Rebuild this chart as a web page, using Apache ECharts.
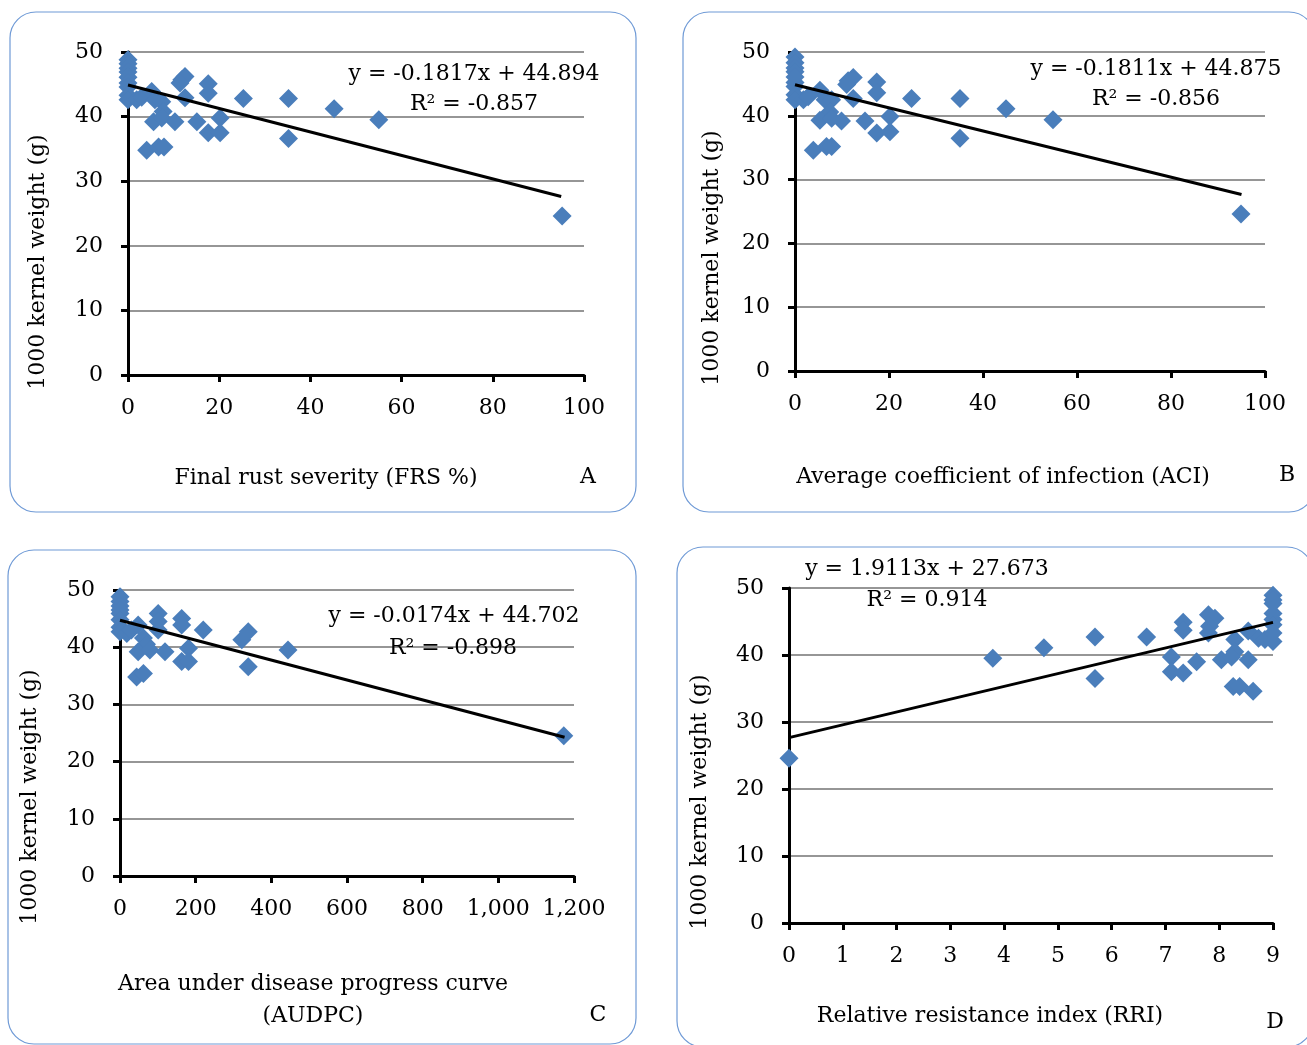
<!DOCTYPE html>
<html lang="en">
<head>
<meta charset="UTF-8">
<title>1000 kernel weight vs rust resistance</title>
<script src="https://cdn.jsdelivr.net/npm/echarts@6/dist/echarts.min.js"></script>
<style>
  body { margin: 0; background: #fff; }
  #chart { width: 1307px; height: 1045px; }
</style>
</head>
<body>
<div id="chart"></div>
<script>
// kernel weight (g) against each resistance measure
const frsX = [0, 0, 0, 0, 0, 0, 0, 0, 0, 1.9, 3, 5.2, 5.9, 7.4, 7.7, 5.6, 7.4, 10.3, 11.8, 12.5, 11.4, 12.5, 17.6, 17.6, 15.1, 20.2, 17.6, 20.2, 4.1, 6.7, 7.9, 25.3, 35.2, 35.2, 45.2, 55, 95.2];
const frsY = [48.8, 48.2, 47.5, 46.9, 46.1, 45.2, 44.6, 43.3, 42.6, 42.6, 43, 43.9, 42.6, 42.3, 40.8, 39.2, 39.8, 39.2, 45.7, 46.2, 45.2, 42.9, 45.1, 43.6, 39.2, 39.8, 37.5, 37.5, 34.8, 35.3, 35.3, 42.8, 42.8, 36.6, 41.2, 39.5, 24.6];

const aciX = [0, 0, 0, 0, 0, 0, 0, 0, 0, 1.8, 2.8, 5.3, 6.4, 7.8, 7.4, 5.3, 7.8, 9.9, 11.3, 12.4, 11, 12.4, 17.4, 17.4, 14.9, 20.2, 17.4, 20.2, 3.9, 6.7, 7.8, 24.8, 35.1, 35.1, 44.9, 54.9, 94.9];
const aciY = [49.2, 48.3, 47.5, 46.9, 46.1, 45.2, 44.6, 43.3, 42.5, 42.5, 43, 44, 42.5, 42.5, 40.6, 39.3, 39.6, 39.2, 45.5, 46, 44.9, 42.7, 45.3, 43.6, 39.2, 39.9, 37.3, 37.5, 34.6, 35.2, 35.2, 42.7, 42.7, 36.5, 41.1, 39.4, 24.6];

const audpcX = [0, 0, 0, 0, 0, 0, 0, 0, 18, 30, 48, 62, 70, 48, 79, 119, 101, 101, 101, 163, 163, 181, 163, 181, 220, 44, 62, 322, 339, 339, 444, 1173];
const audpcY = [48.8, 48, 47.2, 46.5, 45.9, 44.8, 43.5, 42.7, 42.4, 43, 43.9, 41.6, 40.5, 39.2, 39.5, 39.2, 45.9, 44.5, 43, 45, 43.9, 39.8, 37.5, 37.5, 43, 34.8, 35.4, 41.3, 42.7, 36.6, 39.5, 24.5];

const rriX = [0, 3.79, 4.74, 5.69, 5.69, 6.65, 7.33, 7.33, 7.11, 7.11, 7.33, 7.58, 7.8, 7.92, 7.82, 7.8, 8.04, 8.29, 8.29, 8.23, 8.54, 8.54, 8.26, 8.38, 8.63, 8.73, 8.85, 9, 9, 9, 9, 9, 9, 9, 9];
const rriY = [24.6, 39.5, 41.1, 42.7, 36.5, 42.7, 44.9, 43.7, 39.7, 37.5, 37.3, 39, 46, 45.5, 44.3, 43.3, 39.3, 42.3, 40.5, 39.7, 43.6, 39.3, 35.3, 35.3, 34.6, 42.5, 42.3, 48.9, 48.2, 47.7, 46.2, 45.3, 44.5, 43.3, 42];

// trend lines: slope, intercept, x range as printed on each panel
const slopes = [-0.1817, -0.1811, -0.0174, 1.9113];
const intercepts = [44.894, 44.875, 44.702, 27.673];
const trendEnds = [95, 95, 1175, 9];
const equations = ['y = -0.1817x + 44.894', 'y = -0.1811x + 44.875', 'y = -0.0174x + 44.702', 'y = 1.9113x + 27.673'];
const rSquared = ['R² = -0.857', 'R² = -0.856', 'R² = -0.898', 'R² = 0.914'];

const xMax = [100, 100, 1200, 9];
const xStep = [20, 20, 200, 1];
const yTicks = [0, 10, 20, 30, 40, 50];
const xTitles = ['Final rust severity (FRS %)', 'Average coefficient of infection (ACI)', 'Area under disease progress curve\n(AUDPC)', 'Relative resistance index (RRI)'];
const panelLetters = ['A', 'B', 'C', 'D'];
const yTitle = '1000 kernel weight (g)';

const FONT = '"DejaVu Serif", serif';
const FS = 22;

const grids = [
  { left: 128, top: 52, width: 456, height: 323 },
  { left: 795, top: 52, width: 470, height: 319 },
  { left: 120, top: 590, width: 454, height: 286 },
  { left: 789, top: 588, width: 484, height: 335 }
];

// frame boxes and text positions per panel
const frames = [
  { x: 10, y: 12, width: 626, height: 500 },
  { x: 683, y: 12, width: 632, height: 500 },
  { x: 8, y: 550, width: 628, height: 494 },
  { x: 677, y: 547, width: 636, height: 500 }
];
const xTitlePos = [[326, 478], [1003, 477], [313, 1000], [990, 1016]];
const letterPos = [[588, 477], [1287, 475], [598, 1015], [1275, 1022]];
const eqPos = [[474, 74], [1156, 69], [454, 616], [927, 569]];
const r2Pos = [[474, 104], [1156, 99], [453, 648], [927, 600]];
const yTitlePos = [[38, 262], [712, 258], [30, 797], [700, 802]];

const pointsX = [frsX, aciX, audpcX, rriX];
const pointsY = [frsY, aciY, audpcY, rriY];

const chart = echarts.init(document.getElementById('chart'));

const xAxes = [], yAxes = [], series = [], graphics = [];

frames.forEach(f => {
  graphics.push({
    type: 'rect',
    shape: { x: f.x, y: f.y, width: f.width, height: f.height, r: 26 },
    style: { fill: 'none', stroke: '#6f9ad6', lineWidth: 1.2 },
    z: -1
  });
});

function txt(text, pos, rotate) {
  return {
    type: 'text',
    x: pos[0], y: pos[1],
    rotation: rotate ? Math.PI / 2 : 0,
    style: {
      text: text,
      font: FS + 'px ' + FONT,
      fill: '#000',
      textAlign: 'center', textVerticalAlign: 'middle',
      align: 'center', verticalAlign: 'middle',
      lineHeight: 32
    },
    z: 10
  };
}

for (let i = 0; i < 4; i++) {
  xAxes.push({
    type: 'value', gridIndex: i, min: 0, max: xMax[i], interval: xStep[i],
    axisLine: { show: true, lineStyle: { color: '#000', width: 3 } },
    axisTick: { show: true, inside: false, length: 7, lineStyle: { color: '#000', width: 3 } },
    splitLine: { show: false },
    axisLabel: {
      color: '#000', fontFamily: FONT, fontSize: FS, margin: 22,
      formatter: v => v.toLocaleString('en-US')
    }
  });
  yAxes.push({
    type: 'value', gridIndex: i, min: yTicks[0], max: yTicks[yTicks.length - 1], interval: 10,
    axisLine: { show: true, lineStyle: { color: '#000', width: 3 } },
    axisTick: { show: true, inside: false, length: 7, lineStyle: { color: '#000', width: 3 } },
    splitLine: { show: true, lineStyle: { color: '#969696', width: 2 } },
    axisLabel: { color: '#000', fontFamily: FONT, fontSize: FS, margin: 25 }
  });
  series.push({
    type: 'scatter', xAxisIndex: i, yAxisIndex: i,
    symbol: 'diamond', symbolSize: 19, clip: false,
    itemStyle: { color: '#4a7ebb', opacity: 1 },
    data: pointsX[i].map((x, k) => [x, pointsY[i][k]]),
    z: 3
  });
  const x0 = 0, x1 = trendEnds[i];
  series.push({
    type: 'line', xAxisIndex: i, yAxisIndex: i,
    showSymbol: false, silent: true,
    lineStyle: { color: '#000', width: 3 },
    data: [[x0, slopes[i] * x0 + intercepts[i]], [x1, slopes[i] * x1 + intercepts[i]]],
    z: 5
  });

  graphics.push(txt(xTitles[i], xTitlePos[i]));
  graphics.push(txt(panelLetters[i], letterPos[i]));
  graphics.push(txt(equations[i], eqPos[i]));
  graphics.push(txt(rSquared[i], r2Pos[i]));
  graphics.push(txt(yTitle, yTitlePos[i], true));
}

chart.setOption({
  animation: false,
  grid: grids,
  xAxis: xAxes,
  yAxis: yAxes,
  series: series,
  graphic: { elements: graphics }
});
</script>
</body>
</html>
